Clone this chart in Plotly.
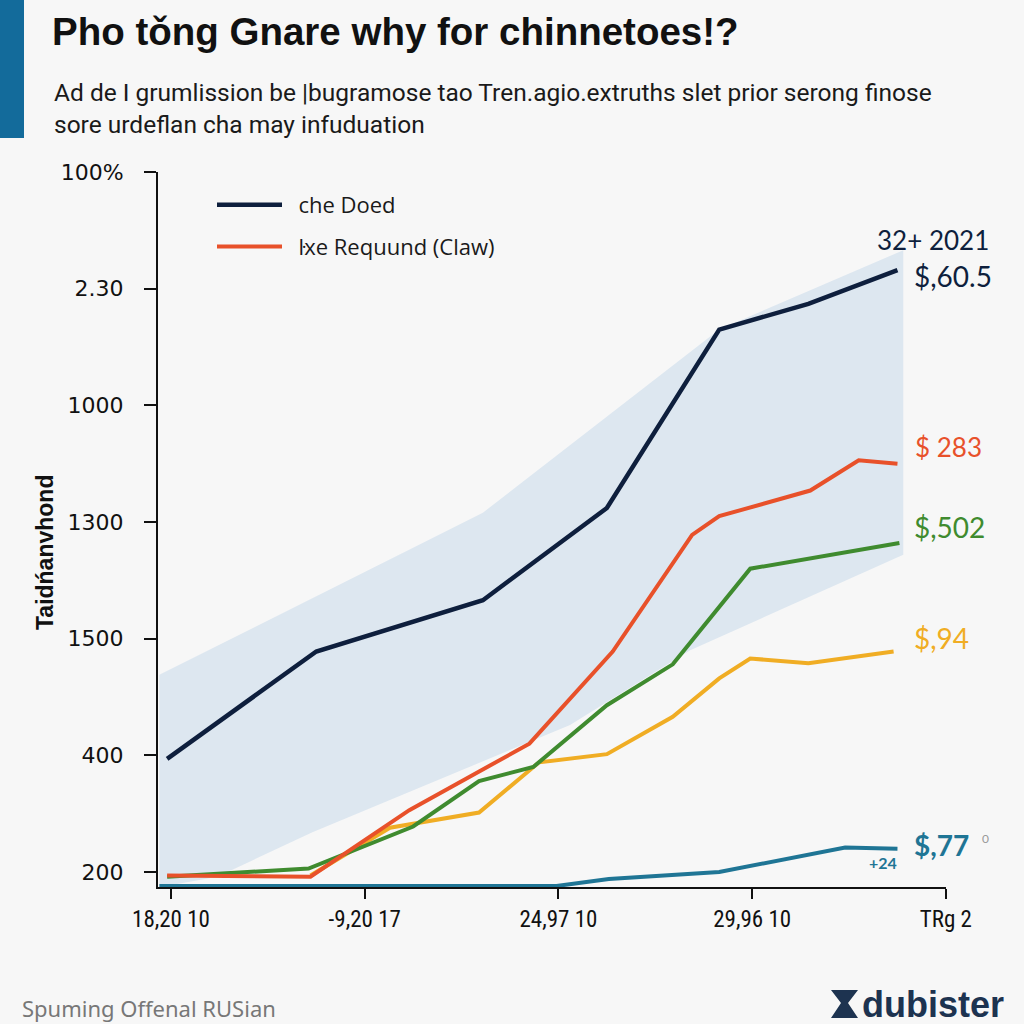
import plotly.graph_objects as go

# ---------------- data ----------------
x_tick_vals = [0, 1, 2, 3, 4]
x_tick_labels = ["18,20 10", "-9,20 17", "24,97 10", "29,96 10", "TRg 2"]
y_tick_vals = [0, 1, 2, 3, 4, 5, 6]
y_tick_labels = ["200", "400", "1500", "1300", "1000", "2.30", "100%"]

navy_x = [-0.02, 0.75, 1.61, 2.25, 2.83, 3.29, 3.75]
navy_y = [0.97, 1.89, 2.33, 3.12, 4.65, 4.87, 5.16]

orange_x = [-0.02, 0.72, 1.23, 1.85, 2.28, 2.69, 2.83, 3.30, 3.55, 3.75]
orange_y = [-0.03, -0.04, 0.53, 1.10, 1.89, 2.89, 3.05, 3.27, 3.53, 3.50]

green_x = [-0.02, 0.71, 1.25, 1.59, 1.87, 2.25, 2.59, 2.99, 3.76]
green_y = [-0.04, 0.03, 0.39, 0.78, 0.90, 1.43, 1.78, 2.60, 2.82]

yellow_x = [0.72, 1.13, 1.59, 1.90, 2.25, 2.59, 2.83, 2.99, 3.29, 3.73]
yellow_y = [-0.03, 0.38, 0.51, 0.94, 1.01, 1.33, 1.66, 1.83, 1.79, 1.89]

teal_x = [-0.06, 1.99, 2.26, 2.83, 3.48, 3.75]
teal_y = [-0.12, -0.12, -0.06, 0.00, 0.21, 0.20]

band_upper_x = [-0.06, 1.61, 2.83, 3.78]
band_upper_y = [1.69, 3.08, 4.65, 5.33]
band_lower_x = [-0.06, 0.24, 0.73, 2.06, 2.68, 3.78]
band_lower_y = [-0.13, -0.04, 0.34, 1.26, 1.90, 2.72]

legend_names = ["che Doed", "ŀxe Requund (Claw)"]
end_labels = ["$,60.5", "$ 283", "$,502", "$,94", "$,77"]

# ---------------- styles ----------------
NAVY = "#0e1f3d"
ORANGE = "#e8512a"
GREEN = "#3f8b2f"
YELLOW = "#f0ad24"
TEAL = "#1f7595"
BAND = "#dde7f0"
BG = "#f7f7f7"

fig = go.Figure()

band_x = band_upper_x + band_lower_x[::-1]
band_y = band_upper_y + band_lower_y[::-1]
fig.add_trace(go.Scatter(x=band_x, y=band_y, fill="toself", fillcolor=BAND,
                         line=dict(width=0), mode="lines", showlegend=False,
                         hoverinfo="skip"))

fig.add_trace(go.Scatter(x=teal_x, y=teal_y, mode="lines",
                         line=dict(color=TEAL, width=4), showlegend=False,
                         cliponaxis=False))
fig.add_trace(go.Scatter(x=yellow_x, y=yellow_y, mode="lines",
                         line=dict(color=YELLOW, width=4), showlegend=False))
fig.add_trace(go.Scatter(x=green_x, y=green_y, mode="lines",
                         line=dict(color=GREEN, width=4), showlegend=False))
fig.add_trace(go.Scatter(x=orange_x, y=orange_y, mode="lines",
                         name="\u00a0\u00a0" + legend_names[1],
                         line=dict(color=ORANGE, width=4), legendrank=2,
                         legendgroup="b"))
fig.add_trace(go.Scatter(x=navy_x, y=navy_y, mode="lines",
                         name="\u00a0\u00a0" + legend_names[0],
                         line=dict(color=NAVY, width=4.5), legendrank=1,
                         legendgroup="a"))

# plot area pixels: x 158..946, y 172..887
L, R, T, B = 158, 946, 172, 887
W, H = R - L, B - T
XS = (R - 171) / 4.0   # px per x unit
YS = (872 - T) / 6.0   # px per y unit


def px(xp):
    return (xp - L) / W


def py(yp):
    return (B - yp) / H


ann = []
# subtitle
ann.append(dict(x=px(52), y=py(92), xref="paper", yref="paper", xanchor="left", yanchor="middle",
                text="Ad de I grumlission be |bugramose tao Tren.agio.extruths slet prior serong finose",
                showarrow=False, font=dict(family="Roboto", size=24.5, color="#1a1a1a")))
ann.append(dict(x=px(52), y=py(124), xref="paper", yref="paper", xanchor="left", yanchor="middle",
                text="sore urdeflan cha may infuduation",
                showarrow=False, font=dict(family="Roboto", size=24.5, color="#1a1a1a")))
# y axis title
ann.append(dict(x=px(45), y=py(552), xref="paper", yref="paper", xanchor="center", yanchor="middle",
                text="<b>Taidńanvhond</b>", textangle=-90, showarrow=False,
                font=dict(family="Liberation Sans", size=23, color="#111111")))
# end labels
ann.append(dict(x=px(875), y=py(240), xref="paper", yref="paper", xanchor="left", yanchor="middle",
                text="32+ 2021", showarrow=False, font=dict(family="Lato", size=26, color=NAVY)))
ann.append(dict(x=px(912), y=py(276), xref="paper", yref="paper", xanchor="left", yanchor="middle",
                text=end_labels[0], showarrow=False, font=dict(family="Lato", size=28, color=NAVY)))
ann.append(dict(x=px(913), y=py(447), xref="paper", yref="paper", xanchor="left", yanchor="middle",
                text=end_labels[1], showarrow=False, font=dict(family="Lato", size=26, color=ORANGE)))
ann.append(dict(x=px(912), y=py(527), xref="paper", yref="paper", xanchor="left", yanchor="middle",
                text=end_labels[2], showarrow=False, font=dict(family="Lato", size=28, color=GREEN)))
ann.append(dict(x=px(912), y=py(638), xref="paper", yref="paper", xanchor="left", yanchor="middle",
                text=end_labels[3], showarrow=False, font=dict(family="Lato", size=28, color=YELLOW)))
ann.append(dict(x=px(912), y=py(845), xref="paper", yref="paper", xanchor="left", yanchor="middle",
                text="<b>" + end_labels[4] + "</b>", showarrow=False,
                font=dict(family="Lato", size=28, color=TEAL)))
ann.append(dict(x=px(980), y=py(838), xref="paper", yref="paper", xanchor="left", yanchor="middle",
                text="0", showarrow=False, font=dict(family="Lato", size=12, color="#999999")))
ann.append(dict(x=px(883), y=py(862), xref="paper", yref="paper", xanchor="center", yanchor="middle",
                text="<b>+24</b>", showarrow=False, font=dict(family="Lato", size=16, color=TEAL)))
# footer
ann.append(dict(x=px(20), y=py(1008), xref="paper", yref="paper", xanchor="left", yanchor="middle",
                text="Spuming Offenal RUSian", showarrow=False,
                font=dict(family="Noto Sans", size=22, color="#777777")))
ann.append(dict(x=px(860), y=py(1004), xref="paper", yref="paper", xanchor="left", yanchor="middle",
                text="<b>dubister</b>", showarrow=False,
                font=dict(family="Liberation Sans", size=36, color="#1d3350")))

shapes = [
    dict(type="rect", xref="paper", yref="paper", x0=px(0), x1=px(24), y0=py(138), y1=py(0),
         fillcolor="#136b9b", line=dict(width=0), layer="above"),
    dict(type="path", xref="paper", yref="paper",
         path=f"M {px(831)} {py(990)} L {px(858)} {py(990)} L {px(848)} {py(1003)} L {px(858)} {py(1018)} L {px(831)} {py(1018)} L {px(841)} {py(1003)} Z",
         fillcolor="#1d3350", line=dict(width=0)),
]

fig.update_layout(
    width=1024, height=1024,
    margin=dict(l=L, r=1024 - R, t=T, b=1024 - B),
    paper_bgcolor=BG, plot_bgcolor=BG,
    title=dict(text="<b>Pho tǒng Gnare why for chinnetoes!?</b>", xref="container", yref="container",
               x=52 / 1024, y=1 - 32 / 1024, xanchor="left", yanchor="middle",
               font=dict(family="Liberation Sans", size=38.5, color="#111111")),
    showlegend=True,
    legend=dict(x=px(212), y=py(184), xanchor="left", yanchor="top", bgcolor="rgba(0,0,0,0)",
                font=dict(family="Open Sans", size=22, color="#1a1a1a"),
                itemwidth=65, tracegroupgap=10, traceorder="grouped"),
    xaxis=dict(range=[(L - 171) / XS, 4.0005], tickvals=x_tick_vals, ticktext=x_tick_labels,
               showgrid=False, zeroline=False, showline=True, linecolor="#111111", linewidth=2,
               ticks="outside", ticklen=10, tickwidth=2, tickcolor="#111111",
               tickfont=dict(family="Liberation Sans Narrow, Roboto Condensed, Roboto", size=23, color="#111111")),
    yaxis=dict(range=[(872 - B) / YS, 6.0005], tickvals=y_tick_vals, ticktext=y_tick_labels,
               showgrid=False, zeroline=False, showline=True, linecolor="#111111", linewidth=2,
               ticks="outside", ticklen=12, tickwidth=2, tickcolor="#111111",
               tickfont=dict(family="DejaVu Sans", size=22, color="#111111"), ticklabelstandoff=16),
    annotations=ann,
    shapes=shapes,
)

fig.write_html("out.html", config={"displayModeBar": False},
               post_script="document.body.style.margin='0px';")
